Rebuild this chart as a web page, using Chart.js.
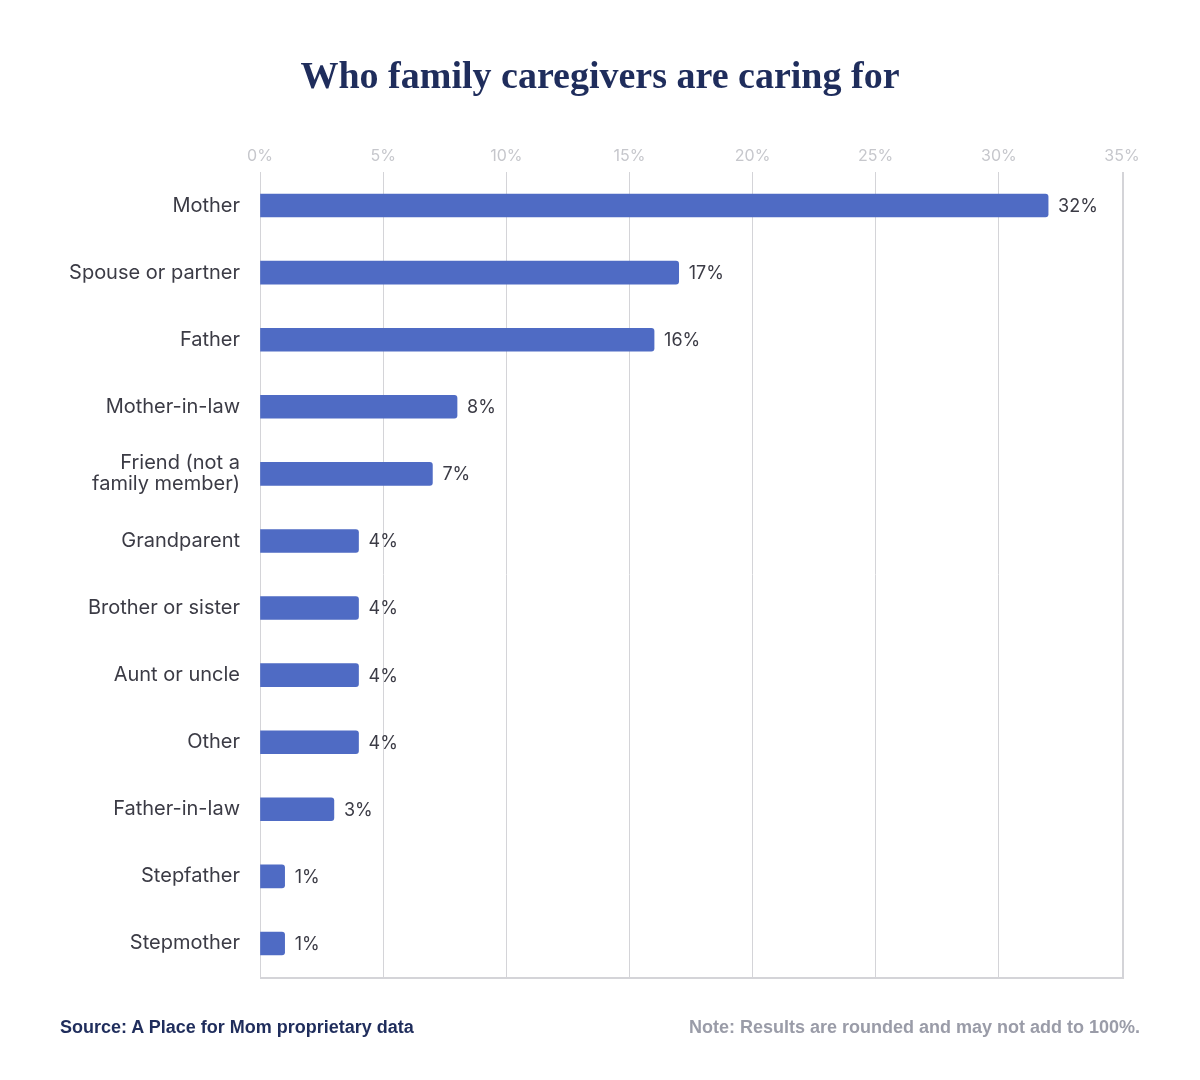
<!DOCTYPE html>
<html>
<head>
<meta charset="utf-8">
<script src="https://cdn.jsdelivr.net/npm/chart.js@4"></script>
<style>
  body { margin: 0; background: #fff; }
  #wrap { position: relative; width: 1200px; height: 1080px; }
  #title { position: absolute; top: 53px; left: 0; width: 1200px; margin: 0; text-align: center;
           font-family: "Liberation Serif", "DejaVu Serif", serif; font-weight: bold; font-size: 38px;
           line-height: 44px; color: #1f2d5c; }
  .foot { position: absolute; top: 1017px; font-family: "Liberation Sans", Arial, sans-serif; font-weight: bold; font-size: 18px; }
  #source { left: 60px; color: #1f2d5c; }
  #note { right: 60px; color: #9a9ca8; }
</style>
</head>
<body>
<div id="wrap">
  <canvas id="careChart" width="1200" height="1080"></canvas>
  <h1 id="title">Who family caregivers are caring for</h1>
  <div class="foot" id="source">Source: A Place for Mom proprietary data</div>
  <div class="foot" id="note">Note: Results are rounded and may not add to 100%.</div>
</div>
<script>
// Who family caregivers are caring for (percent of respondents)
const categories = [
    "Mother", "Spouse or partner", "Father", "Mother-in-law",
    ["Friend (not a", "family member)"], "Grandparent", "Brother or sister",
    "Aunt or uncle", "Other", "Father-in-law", "Stepfather", "Stepmother"
];
const shares = [32, 17, 16, 8, 7, 4, 4, 4, 4, 3, 1, 1];
const tickValues = [0, 5, 10, 15, 20, 25, 30, 35];

const labelFont = "Inter, 'Noto Sans', sans-serif";

// draws the "32%" text just past the end of each bar
const valueLabels = {
    id: "valueLabels",
    afterDatasetsDraw(chart) {
        const ctx = chart.ctx;
        const meta = chart.getDatasetMeta(0);
        ctx.save();
        ctx.font = "18px " + labelFont;
        ctx.fillStyle = "#3b3b45";
        ctx.textAlign = "left";
        ctx.textBaseline = "middle";
        meta.data.forEach((bar, i) => {
            ctx.fillText(shares[i] + "%", bar.x + 10, bar.y + 1);
        });
        ctx.restore();
    }
};

var ctx = document.getElementById("careChart").getContext("2d");
var careChart = new Chart(ctx, {
    type: "bar",
    data: {
        labels: categories,
        datasets: [{
            data: shares,
            backgroundColor: "#4f6bc4",
            barThickness: 23,
            borderRadius: { topRight: 3, bottomRight: 3 },
            borderSkipped: "start"
        }]
    },
    options: {
        indexAxis: "y",
        responsive: false,
        animation: false,
        layout: { padding: { left: 60, right: 78, top: 100, bottom: 103 } },
        plugins: {
            legend: { display: false },
            tooltip: { enabled: false },
            title: { display: false }
        },
        scales: {
            x: {
                position: "top",
                min: 0,
                max: 35,
                afterBuildTicks: function (scale) {
                    scale.ticks = tickValues.map(v => ({ value: v }));
                },
                afterFit: function (scale) {
                    scale.height = 72;
                },
                ticks: {
                    color: "#c6c7cc",
                    padding: 6,
                    font: { family: labelFont, size: 16 },
                    callback: v => v + "%"
                },
                grid: { color: "#d4d4d8", lineWidth: 1, drawTicks: false },
                border: { display: false }
            },
            y: {
                afterFit: function (scale) {
                    scale.width = 200;
                },
                ticks: {
                    color: "#3b3b45",
                    padding: 20,
                    font: { family: labelFont, size: 20, lineHeight: 1.05 }
                },
                grid: { display: false, drawTicks: false },
                border: { color: "#d4d4d8", width: 1 }
            }
        }
    },
    plugins: [valueLabels, {
        id: "frame",
        afterDraw(chart) {
            // bottom and right edges of the plot box
            const a = chart.chartArea;
            const c = chart.ctx;
            c.save();
            c.strokeStyle = "#d4d4d8";
            c.lineWidth = 2;
            c.beginPath();
            c.moveTo(a.left, a.bottom + 1);
            c.lineTo(a.right + 1, a.bottom + 1);
            c.lineTo(a.right + 1, a.top);
            c.stroke();
            c.restore();
        }
    }]
});
</script>
</body>
</html>
